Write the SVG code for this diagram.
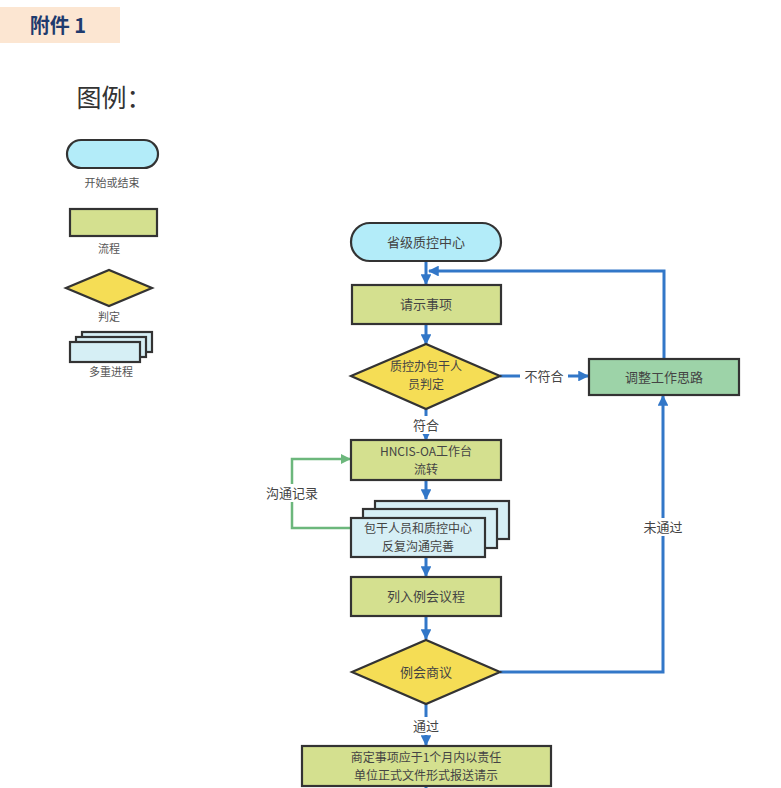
<svg xmlns="http://www.w3.org/2000/svg" width="781" height="788" viewBox="0 0 781 788">
<style>
text{font-family:"Noto Sans CJK SC","Noto Sans",sans-serif;fill:#444;}
.shape{stroke:#333;stroke-width:2.2;}
.term{fill:#b3ecf9;}
.proc{fill:#d4e08f;}
.dec{fill:#f5dd55;}
.multi{fill:#d6eff5;}
.adj{fill:#9dd3a8;}
.t{font-size:13px;text-anchor:middle;}
.t2{font-size:12px;text-anchor:middle;}
.lg{font-size:11px;text-anchor:middle;fill:#555;font-family:"Noto Sans CJK SC",serif;}
.lbl{font-size:13px;text-anchor:middle;fill:#444;}
.blue{stroke:#3277c8;stroke-width:3;fill:none;}
.green{stroke:#6cb77c;stroke-width:2.5;fill:none;}
</style>
<defs>
<marker id="ab" viewBox="0 0 10 10" refX="9" refY="5" markerWidth="3.6" markerHeight="3.6" orient="auto" markerUnits="strokeWidth">
<path d="M0,0 L10,5 L0,10 z" fill="#3277c8"/>
</marker>
<marker id="ag" viewBox="0 0 10 10" refX="9" refY="5" markerWidth="4" markerHeight="4" orient="auto" markerUnits="strokeWidth">
<path d="M0,0 L10,5 L0,10 z" fill="#6cb77c"/>
</marker>
</defs>
<rect width="781" height="788" fill="#fff"/>
<g id="header">
<rect x="0" y="7" width="120" height="36" fill="#fce6d2"/>
<text x="58" y="33" font-size="20" font-weight="bold" text-anchor="middle" style="fill:#1f3b6e">附件 1</text>
</g>
<g id="legend">
<text x="114" y="107" font-size="25" text-anchor="middle" style="fill:#333">图例：</text>
<rect class="shape term" x="67" y="140" width="91" height="28" rx="14"/>
<text class="lg" x="112" y="187">开始或结束</text>
<rect class="shape proc" x="70" y="209" width="87" height="27"/>
<text class="lg" x="109" y="253">流程</text>
<polygon class="shape dec" points="66,288 109,270 152,288 109,306"/>
<text class="lg" x="109" y="321">判定</text>
<rect class="shape multi" x="82" y="332" width="70" height="20"/>
<rect class="shape multi" x="76" y="337" width="70" height="20"/>
<rect class="shape multi" x="70" y="342" width="70" height="20"/>
<text class="lg" x="111" y="376">多重进程</text>
</g>
<g id="connectors">
<line class="blue" x1="426" y1="261" x2="426" y2="284" marker-end="url(#ab)"/>
<polyline class="blue" points="664,359 664,271 429,271" marker-end="url(#ab)"/>
<line class="blue" x1="426" y1="324" x2="426" y2="344" marker-end="url(#ab)"/>
<line class="blue" x1="500" y1="376" x2="588" y2="376" marker-end="url(#ab)"/>
<line class="blue" x1="426" y1="409" x2="426" y2="440" marker-end="url(#ab)"/>
<line class="blue" x1="426" y1="480" x2="426" y2="499" marker-end="url(#ab)"/>
<polyline class="green" points="351,528 292,528 292,459 350,459" marker-end="url(#ag)"/>
<line class="blue" x1="426" y1="557" x2="426" y2="576" marker-end="url(#ab)"/>
<line class="blue" x1="426" y1="616" x2="426" y2="639" marker-end="url(#ab)"/>
<polyline class="blue" points="500,672 663,672 663,396" marker-end="url(#ab)"/>
<line class="blue" x1="426" y1="704" x2="426" y2="745" marker-end="url(#ab)"/>
<line class="blue" x1="426" y1="786" x2="426" y2="788"/>
<rect x="520" y="367" width="48" height="18" fill="#fff"/>
<text class="lbl" x="544" y="381">不符合</text>
<rect x="410" y="416" width="32" height="18" fill="#fff"/>
<text class="lbl" x="426" y="430">符合</text>
<rect x="262" y="484" width="60" height="18" fill="#fff"/>
<text class="lbl" x="292" y="498">沟通记录</text>
<rect x="641" y="518" width="44" height="18" fill="#fff"/>
<text class="lbl" x="663" y="532">未通过</text>
<rect x="410" y="717" width="32" height="18" fill="#fff"/>
<text class="lbl" x="426" y="731">通过</text>
</g>
<g id="start">
<rect class="shape term" x="351" y="223" width="150" height="38" rx="19"/>
<text class="t" x="426" y="247">省级质控中心</text>
</g>
<g id="request">
<rect class="shape proc" x="352" y="285" width="149" height="39"/>
<text class="t" x="426" y="309">请示事项</text>
</g>
<g id="judge">
<polygon class="shape dec" points="351,376 426,344 500,376 426,409"/>
<text class="t2" x="426" y="371">质控办包干人</text>
<text class="t2" x="426" y="389">员判定</text>
</g>
<g id="adjust">
<rect class="shape adj" x="589" y="359" width="150" height="36"/>
<text class="t" x="664" y="382">调整工作思路</text>
</g>
<g id="hncis">
<rect class="shape proc" x="351" y="440" width="150" height="40"/>
<text class="t2" x="426" y="456">HNCIS-OA工作台</text>
<text class="t2" x="426" y="474">流转</text>
</g>
<g id="communicate">
<rect class="shape multi" x="375" y="501" width="134" height="38"/>
<rect class="shape multi" x="363" y="509" width="134" height="39"/>
<rect class="shape multi" x="351" y="518" width="134" height="39"/>
<text class="t2" x="418" y="533">包干人员和质控中心</text>
<text class="t2" x="418" y="551">反复沟通完善</text>
</g>
<g id="agenda">
<rect class="shape proc" x="351" y="577" width="150" height="39"/>
<text class="t" x="426" y="601">列入例会议程</text>
</g>
<g id="meeting">
<polygon class="shape dec" points="352,672 426,640 500,672 426,704"/>
<text class="t" x="426" y="677">例会商议</text>
</g>
<g id="final">
<rect class="shape proc" x="302" y="746" width="249" height="40"/>
<text class="t2" x="426" y="762">商定事项应于1个月内以责任</text>
<text class="t2" x="426" y="780">单位正式文件形式报送请示</text>
</g>
</svg>
